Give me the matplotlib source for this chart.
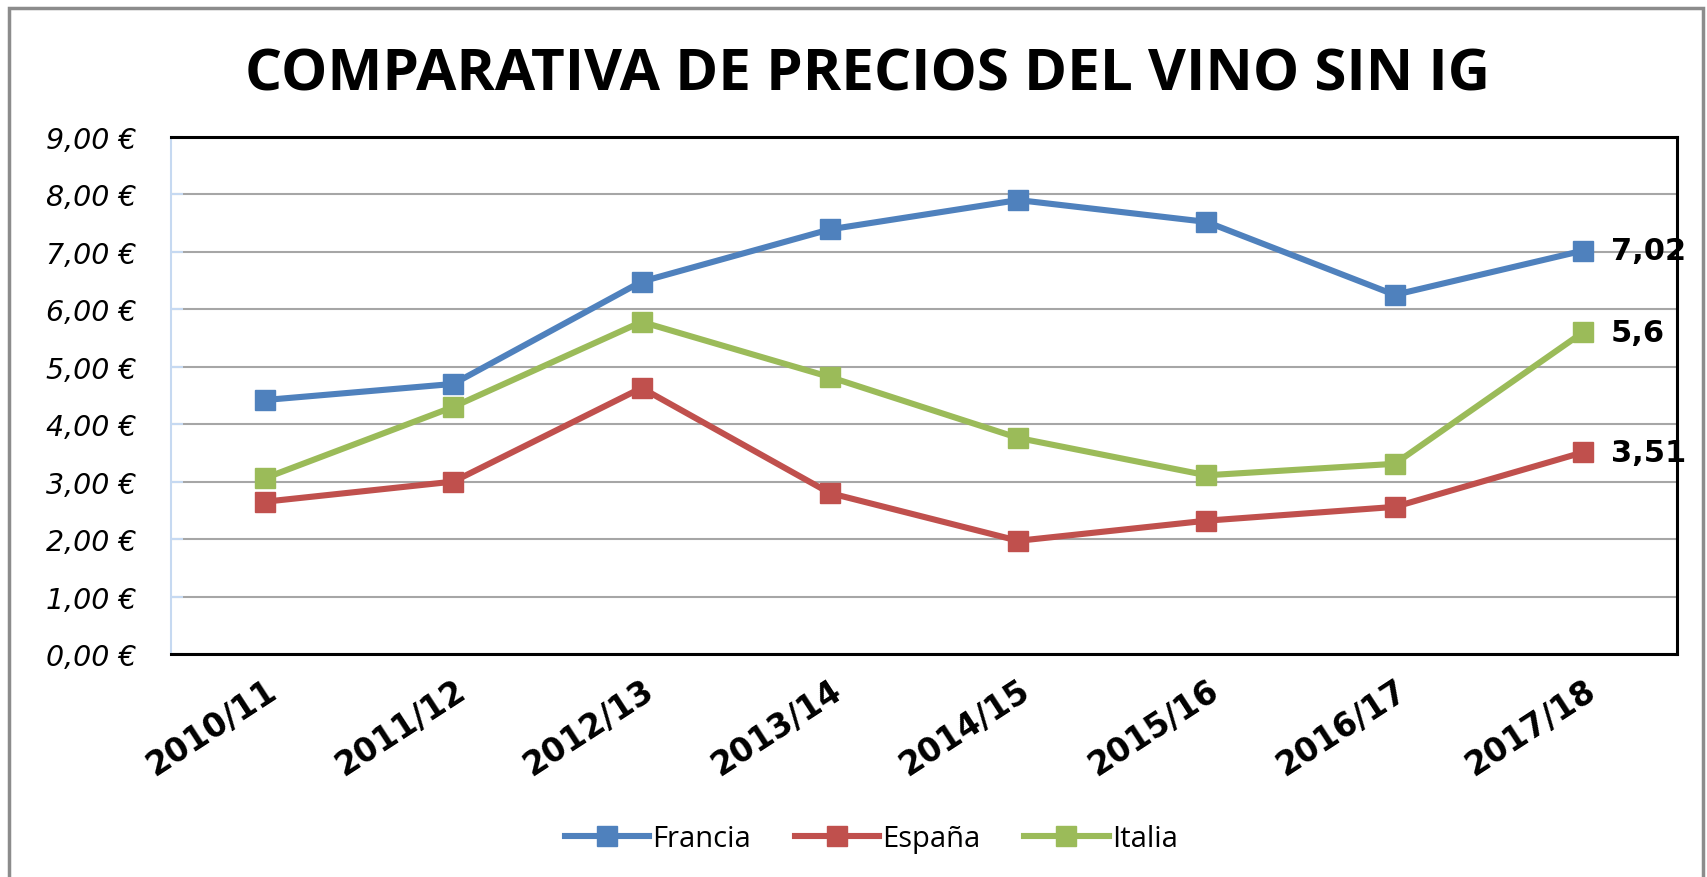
import matplotlib.pyplot as plt
from matplotlib.patches import Rectangle
from matplotlib.ticker import FuncFormatter

campaigns = ["2010/11", "2011/12", "2012/13", "2013/14", "2014/15", "2015/16", "2016/17", "2017/18"]
francia = [4.42, 4.70, 6.48, 7.39, 7.90, 7.52, 6.25, 7.02]
espana = [2.65, 3.00, 4.63, 2.80, 1.97, 2.32, 2.56, 3.51]
italia = [3.06, 4.30, 5.78, 4.82, 3.76, 3.11, 3.31, 5.60]
last_labels = ["7,02", "3,51", "5,6"]

series = [("Francia", francia, "#4F81BD"),
          ("España", espana, "#C0504D"),
          ("Italia", italia, "#9BBB59")]

plt.rcParams['font.family'] = ['Open Sans', 'DejaVu Sans']

fig = plt.figure(figsize=(17.08, 8.78), dpi=100)
ax = fig.add_axes([0.100, 0.254, 0.882, 0.589])

x = list(range(len(campaigns)))
for (name, vals, col), lab in zip(series, last_labels):
    ax.plot(x, vals, color=col, lw=4.4, marker='s', ms=15, label=name,
            solid_joinstyle='round')
    ax.annotate(lab, (x[-1], vals[-1]), xytext=(20, 0), textcoords='offset points',
                va='center', ha='left', fontsize=22, fontweight='bold',
                family='DejaVu Sans', annotation_clip=False, zorder=5)

ax.set_xlim(-0.5, len(campaigns) - 0.5)
ax.set_ylim(0, 9)
ax.set_yticks(range(10))
ax.yaxis.set_major_formatter(FuncFormatter(lambda v, p: "{:.2f} €".format(v).replace('.', ',')))
for t in ax.get_yticklabels():
    t.set_fontstyle('italic')
    t.set_fontsize(20.5)
    t.set_family('DejaVu Sans')
ax.tick_params(axis='y', direction='in', length=8.6, width=1.5, color='#C6D9F1', pad=25)
ax.set_xticks(x)
ax.set_xticklabels(campaigns, rotation=33, ha='right', rotation_mode='anchor',
                   fontsize=23.5, fontweight='bold', family='DejaVu Sans')
ax.tick_params(axis='x', length=0, pad=14)

ax.grid(axis='y', color='#A6A6A6', lw=1.5)
ax.set_axisbelow(True)
for s in ['top', 'right', 'bottom']:
    ax.spines[s].set_color('black')
    ax.spines[s].set_linewidth(2.2)
ax.spines['left'].set_color('#C6D9F1')
ax.spines['left'].set_linewidth(1.5)

fig.text(0.508, 0.914, "COMPARATIVA DE PRECIOS DEL VINO SIN IG", ha='center', va='center',
         fontsize=42, fontweight='bold')

ax.legend(loc='center', bbox_to_anchor=(0.51, 0.044), bbox_transform=fig.transFigure,
          ncol=3, frameon=False, fontsize=21, handlelength=2.9, columnspacing=1.5,
          handletextpad=0.1)

fig.patches.append(Rectangle((0.005, -0.05), 0.992, 1.04, transform=fig.transFigure,
                             fill=False, edgecolor='#8C8C8C', lw=2.5))

fig.savefig("out.png", dpi=100)
